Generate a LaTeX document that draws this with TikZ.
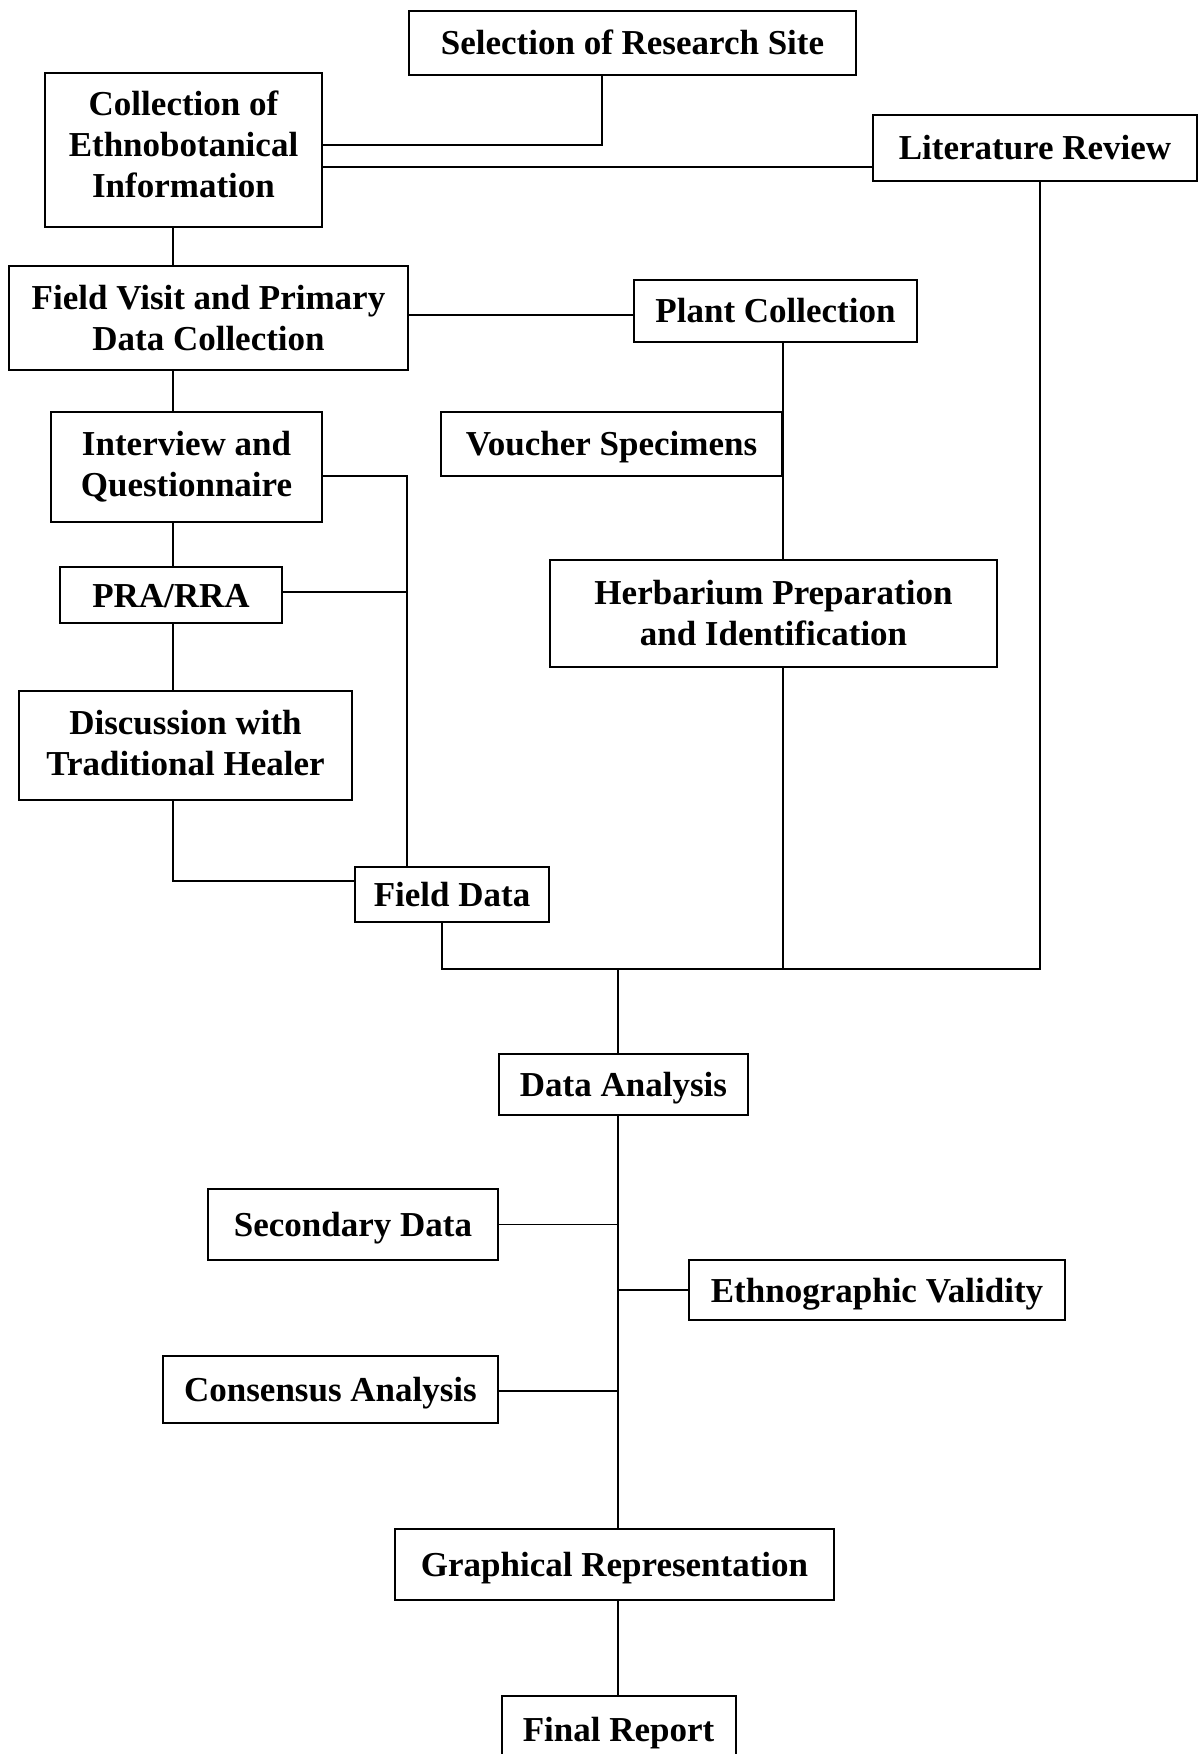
\documentclass[tikz,border=0pt]{standalone}
\usepackage{fontspec}
\setmainfont{Liberation Serif}
\tikzset{
  box/.style={draw, line width=1pt, font=\fontsize{17.5}{20.5}\selectfont\bfseries, align=center, inner sep=0pt},
  one/.style={text height=12pt, text depth=#1},
  one/.default=0pt,
  conn/.style={line width=0.6pt}
}
\begin{document}
\begin{tikzpicture}[x=0.5pt,y=-0.5pt]
\clip (0,0) rectangle (1200,1754);
\fill[white] (0,0) rectangle (1200,1754);
% boxes
\node[box, one, minimum width=223.5pt, minimum height=32pt] (sel) at (632.5,43) {Selection of Research Site};
\node[box, minimum width=138.5pt, minimum height=77pt] (coll) at (183.5,150) {Collection of\\Ethnobotanical\\Information\\[-14.9pt]\mbox{}};
\node[box, one, minimum width=162pt, minimum height=33pt] (lit) at (1035,148) {Literature Review};
\node[box, minimum width=199.5pt, minimum height=52pt] (fv) at (208.5,318) {Field Visit and Primary\\Data Collection};
\node[box, one, minimum width=141.5pt, minimum height=31pt] (plant) at (775.5,311) {Plant Collection};
\node[box, minimum width=135.5pt, minimum height=55pt] (int) at (186.5,467) {Interview and\\Questionnaire};
\node[box, one, minimum width=170.5pt, minimum height=32pt] (vou) at (611.5,444) {Voucher Specimens};
\node[box, one=-3pt, minimum width=111pt, minimum height=28pt] (pra) at (171,595) {PRA/RRA};
\node[box, minimum width=223.5pt, minimum height=53.5pt] (herb) at (773.5,613.5) {Herbarium Preparation\\and Identification};
\node[box, minimum width=166.5pt, minimum height=54.5pt] (disc) at (185.5,745.5) {Discussion with\\Traditional Healer\\[-17.7pt]\mbox{}};
\node[box, one=-2.5pt, minimum width=97pt, minimum height=27.5pt] (fd) at (452,894.5) {Field Data};
\node[box, one, minimum width=124.5pt, minimum height=30.5pt] (da) at (623.5,1084.5) {Data Analysis};
\node[box, one, minimum width=145pt, minimum height=35.5pt] (sec) at (353,1224.5) {Secondary Data};
\node[box, one, minimum width=188pt, minimum height=30pt] (eth) at (877,1290) {Ethnographic Validity};
\node[box, one, minimum width=167.5pt, minimum height=33.5pt] (cons) at (330.5,1389) {Consensus Analysis};
\node[box, one, minimum width=219.5pt, minimum height=35.5pt] (gr) at (614.5,1564) {Graphical Representation};
\node[box, one, minimum width=117pt, minimum height=33pt] (fr) at (618.5,1729) {Final Report};
% helper coordinates
\coordinate (j1) at (602,145);
\coordinate (j2) at (0,167);
\coordinate (vx) at (173,0);
\coordinate (j3) at (0,315);
\coordinate (j4) at (173,881);
\coordinate (rx) at (407,476);
\coordinate (j5) at (407,592);
\coordinate (bus) at (618,969);
\coordinate (fdx) at (442,0);
\coordinate (litx) at (1040,0);
\coordinate (j6) at (0,1391);
% connectors
\draw[conn] (sel.south -| j1) |- (coll.east |- j1);
\draw[conn] (coll.east |- j2) -- (lit.west |- j2);
\draw[conn] (coll.south -| vx) -- (fv.north -| vx);
\draw[conn] (fv.east |- j3) -- (plant.west |- j3);
\draw[conn] (fv.south -| vx) -- (int.north -| vx);
\draw[conn] (int.south -| vx) -- (pra.north -| vx);
\draw[conn] (pra.south -| vx) -- (disc.north -| vx);
\draw[conn] (disc.south -| vx) |- (fd.west |- j4);
\draw[conn] (int.east |- rx) -| (fd.north -| rx);
\draw[conn] (pra.east |- j5) -- (j5);
\draw[conn] (vou.east |- plant.south) -- (vou.east |- herb.north);
\draw[conn] (vou.east |- herb.south) -- (vou.east |- bus);
\draw[conn] (fd.south -| fdx) |- (litx |- bus) -- (lit.south -| litx);
\draw[conn] (bus) -- (da.north -| bus);
\draw[conn] (da.south -| bus) -- (gr.north -| bus);
\draw[conn] (gr.south -| bus) -- (fr.north -| bus);
\draw[conn] (sec.east) -- (sec.east -| bus);
\draw[conn] (eth.west) -- (eth.west -| bus);
\draw[conn] (cons.east |- j6) -- (bus |- j6);
\end{tikzpicture}
\end{document}
